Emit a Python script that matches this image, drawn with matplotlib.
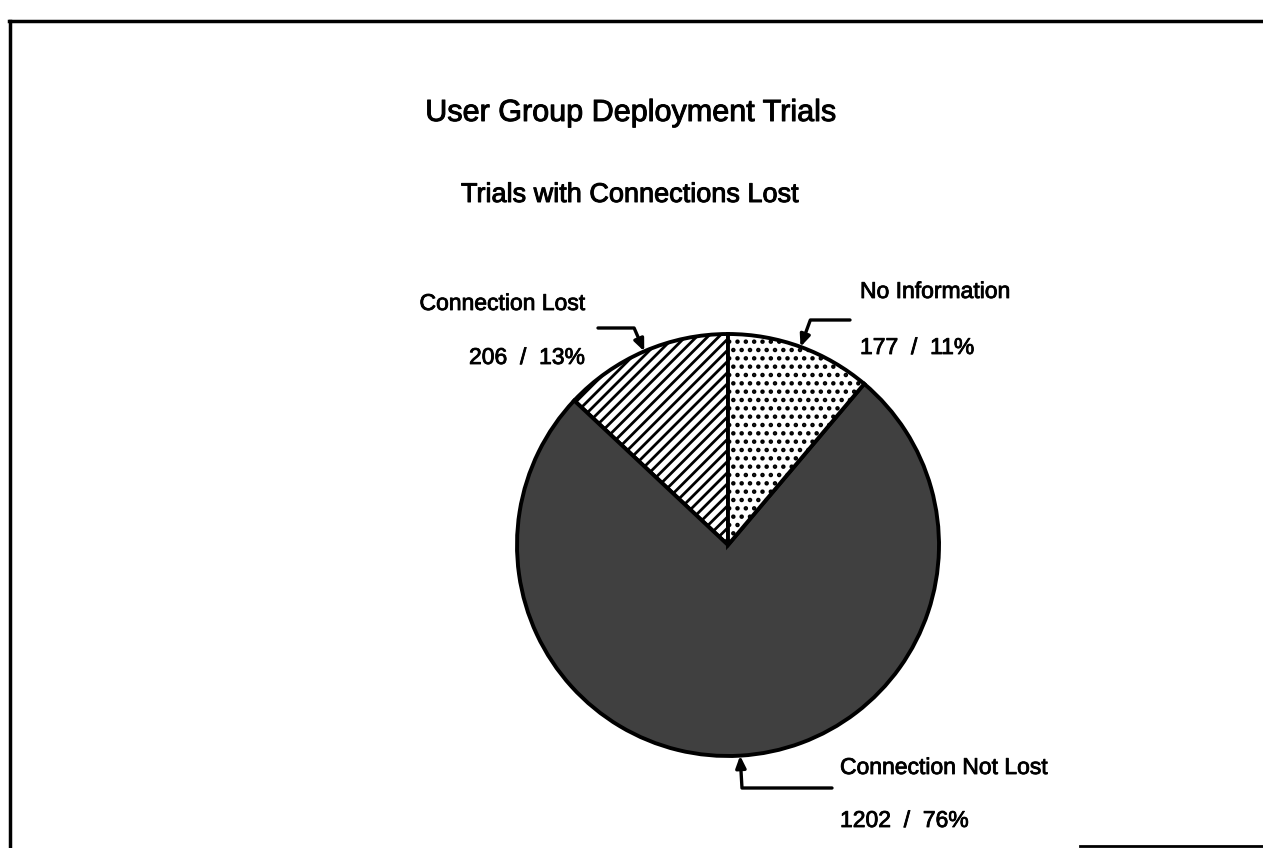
import matplotlib
matplotlib.use("Agg")
import matplotlib.pyplot as plt
import matplotlib.patheffects as pe
import numpy as np
from matplotlib.lines import Line2D

# ---- data ----
categories = ["Connection Lost", "Connection Not Lost", "No Information"]
counts = [206, 1202, 177]
percent_labels = ["13%", "76%", "11%"]
title = "User Group Deployment Trials"
subtitle = "Trials with Connections Lost"

plt.rcParams['font.family'] = ['Liberation Sans', 'DejaVu Sans']
plt.rcParams['hatch.linewidth'] = 2.0

W, H = 1263, 848
fig = plt.figure(figsize=(W / 100, H / 100), dpi=100)
fig.patch.set_facecolor('white')

# pie axes: center ~ (728, 545), radius ~ 211 px
cx, cy, r = 728, 545, 211
ax = fig.add_axes([(cx - r) / W, (H - cy - r) / H, 2 * r / W, 2 * r / H])

faces = ['white', '#404040', 'white']
hatches = ['///', None, '..']
wedges, _ = ax.pie(counts, startangle=90, counterclock=True,
                   colors=faces, radius=1.0,
                   wedgeprops=dict(edgecolor='black', linewidth=2.8))
for w, h in zip(wedges, hatches):
    if h:
        w.set_hatch(h)
ax.set_xlim(-1, 1)
ax.set_ylim(-1, 1)
ax.set_aspect('equal')
ax.axis('off')

thick_lbl = [pe.withStroke(linewidth=0.6, foreground='black')]
thick_ttl = [pe.withStroke(linewidth=0.7, foreground='black')]

# label placement (figure pixels, top-origin)
label_pos = {
    "Connection Lost": dict(x=585, y1=310, y2=364, ha='right', start=(598, 328)),
    "No Information": dict(x=860, y1=298, y2=354, ha='left', start=(850, 320)),
    "Connection Not Lost": dict(x=840, y1=774, y2=827, ha='left', start=(832, 788)),
}

for w, cat, cnt, pct in zip(wedges, categories, counts, percent_labels):
    p = label_pos[cat]
    mid = np.deg2rad((w.theta1 + w.theta2) / 2)
    tip = (np.cos(mid), np.sin(mid))
    fig.text(p['x'] / W, (H - p['y1']) / H, cat, ha=p['ha'], va='baseline',
             fontsize=16.5, path_effects=thick_lbl)
    fig.text(p['x'] / W, (H - p['y2']) / H, f"{cnt}  /  {pct}", ha=p['ha'],
             va='baseline', fontsize=16.5, path_effects=thick_lbl)
    sx, sy = p['start']
    angB = np.rad2deg(mid)
    ax.annotate("", xy=tip, xycoords='data',
                xytext=(sx, H - sy), textcoords='figure pixels',
                arrowprops=dict(arrowstyle='-|>,head_length=0.7,head_width=0.3',
                                color='black', lw=2.4, shrinkA=0, shrinkB=0,
                                connectionstyle=f"angle,angleA=0,angleB={angB:.1f},rad=0"),
                annotation_clip=False)

fig.text(630 / W, (H - 121) / H, title, ha='center', va='baseline', fontsize=22,
         path_effects=thick_ttl)
fig.text(630 / W, (H - 202) / H, subtitle, ha='center', va='baseline', fontsize=19.5,
         path_effects=thick_ttl)

# frame
fig.add_artist(Line2D([10 / W, 10 / W], [0, (H - 21) / H], transform=fig.transFigure,
                      color='black', lw=2.5))
fig.add_artist(Line2D([9 / W, 1], [(H - 21) / H, (H - 21) / H], transform=fig.transFigure,
                      color='black', lw=2.5))
fig.add_artist(Line2D([1080 / W, 1], [(H - 846) / H, (H - 846) / H], transform=fig.transFigure,
                      color='black', lw=2))

fig.savefig('out.png', dpi=100)
